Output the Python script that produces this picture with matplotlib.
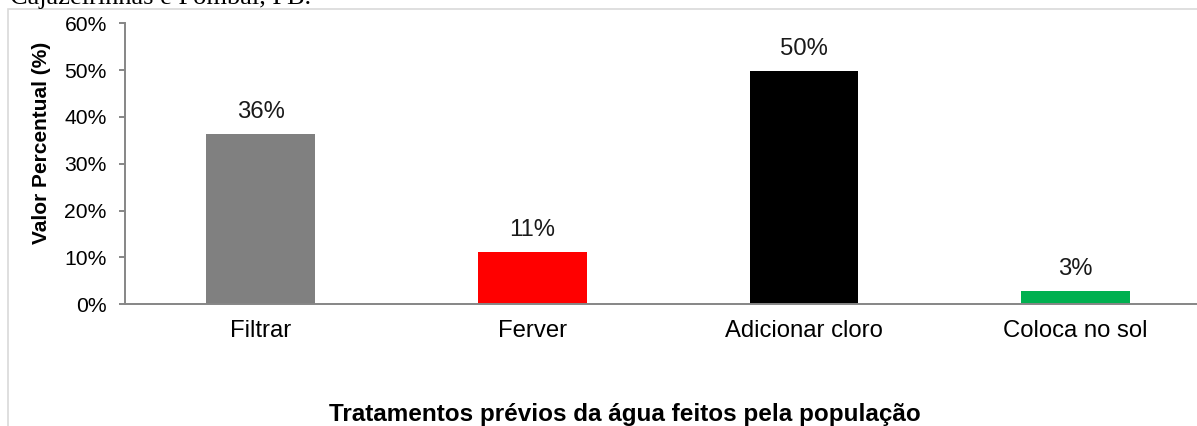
import matplotlib
matplotlib.use("Agg")
import matplotlib.pyplot as plt
from matplotlib.patches import Rectangle

categories = ["Filtrar", "Ferver", "Adicionar cloro", "Coloca no sol"]
values = [36.4, 11.2, 49.8, 2.8]
value_labels = ["36%", "11%", "50%", "3%"]
bar_colors = ["#808080", "#ff0000", "#000000", "#00b050"]
yticks = [0, 10, 20, 30, 40, 50, 60]
ytick_labels = ["0%", "10%", "20%", "30%", "40%", "50%", "60%"]

W, H = 1197, 426
plt.rcParams['font.family'] = ['Liberation Sans', 'DejaVu Sans']
fig = plt.figure(figsize=(W / 100, H / 100), dpi=100)

# chart border
fig.patches.append(Rectangle((8.3 / W, -0.2), 1.5, 1 - 9.3 / H + 0.2,
                             transform=fig.transFigure, fill=False,
                             edgecolor="#d9d9d9", linewidth=1.2))

ax = fig.add_axes([124.7 / W, (H - 304.3) / H, (1211.5 - 124.7) / W, (304.3 - 23.3) / H])
x = list(range(len(categories)))
ax.bar(x, values, width=0.4, color=bar_colors, zorder=2)
ax.set_xlim(-0.5, 3.5)
ax.set_ylim(0, 60)
ax.set_yticks(yticks)
ax.set_yticklabels(ytick_labels, fontsize=15.2)
ax.set_xticks(x)
ax.set_xticklabels(categories, fontsize=17.2)
ax.tick_params(axis='x', length=0, pad=11)
ax.tick_params(axis='y', length=4.3, width=1.4, color="#868686", pad=8.6)
for s in ["top", "right"]:
    ax.spines[s].set_visible(False)
for s in ["left", "bottom"]:
    ax.spines[s].set_color("#868686")
    ax.spines[s].set_linewidth(1.4)
ax.patch.set_visible(False)

for xi, v, lab in zip(x, values, value_labels):
    ax.annotate(lab, (xi, v), xytext=(0, 11.5), textcoords="offset points",
                ha="center", va="baseline", fontsize=17.2, color="#1a1a1a")

fig.text(42 / W, 1 - 142.5 / H, "Valor Percentual (%)", rotation=90,
         ha="center", va="center", fontsize=15, fontweight="bold")
fig.text(625 / W, 1 - 421 / H, "Tratamentos prévios da água feitos pela população",
         ha="center", va="baseline", fontsize=17.5, fontweight="bold")
fig.text(10 / W, 1 - 4 / H, "Cajazeirinhas e Pombal, PB.", ha="left", va="baseline",
         fontsize=19, family=["Liberation Serif", "DejaVu Serif"])

fig.savefig("out.png", dpi=100)
